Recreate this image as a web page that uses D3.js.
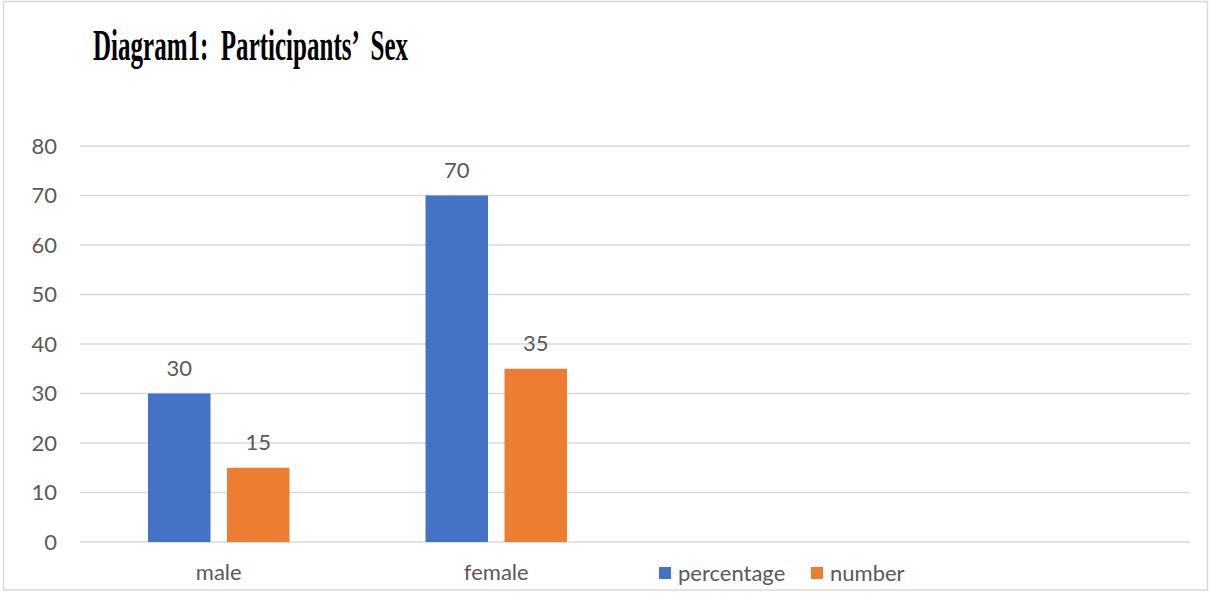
<!DOCTYPE html>
<html>
<head>
<meta charset="utf-8">
<script src="https://cdn.jsdelivr.net/npm/d3@7"></script>
<style>
  body { margin: 0; background: #fff; }
  svg text { font-family: Lato, "Open Sans", sans-serif; fill: #595959; }
</style>
</head>
<body>
<svg id="chart" width="1210" height="593"></svg>
<script>
(function() {
  // chart data
  const categories = ["male", "female", "", ""];
  const seriesNames = ["percentage", "number"];
  const percentage = [30, 70, null, null];
  const number = [15, 35, null, null];
  const yTicks = [0, 10, 20, 30, 40, 50, 60, 70, 80];
  const colors = ["#4472C4", "#ED7D31"];

  const svg = d3.select("#chart");
  const left = 80, right = 1190, top = 146, bottom = 542;

  // outer frame
  svg.append("rect")
    .attr("x", 3.5).attr("y", 1.5)
    .attr("width", 1204).attr("height", 588.5)
    .attr("fill", "none")
    .attr("stroke", "#d9d9d9")
    .attr("stroke-width", 1.5);

  // title (condensed bold serif)
  svg.append("text")
    .attr("x", 93).attr("y", 60)
    .attr("textLength", 315)
    .attr("lengthAdjust", "spacingAndGlyphs")
    .style("font-family", "'Liberation Serif', 'DejaVu Serif', serif")
    .style("font-weight", "bold")
    .style("font-size", "45px")
    .style("fill", "#000")
    .style("white-space", "pre")
    .text("Diagram1:  Participants’  Sex");

  const x0 = d3.scaleBand()
    .domain(d3.range(categories.length))
    .range([left, right])
    .padding(0);

  const x1 = d3.scaleBand()
    .domain(seriesNames)
    .range([0, x0.bandwidth()])
    .paddingInner(0.209)
    .paddingOuter(0.861);

  const y = d3.scaleLinear().domain([0, 80]).range([bottom, top]);

  // gridlines
  svg.append("g")
    .selectAll("line")
    .data(yTicks)
    .enter()
    .append("line")
    .attr("x1", left).attr("x2", right)
    .attr("y1", d => y(d)).attr("y2", d => y(d))
    .attr("stroke", "#d9d9d9")
    .attr("stroke-width", 1.5);

  // y tick labels
  svg.append("g")
    .selectAll("text")
    .data(yTicks)
    .enter()
    .append("text")
    .attr("x", 57)
    .attr("y", d => y(d))
    .attr("dy", "0.35em")
    .attr("text-anchor", "end")
    .style("font-size", "22px")
    .text(d => d);

  // bars
  const table = categories.map((c, i) => ({
    i: i,
    values: [
      { key: "percentage", value: percentage[i] },
      { key: "number", value: number[i] }
    ]
  }));

  const groups = svg.append("g")
    .selectAll("g")
    .data(table)
    .enter()
    .append("g")
    .attr("transform", d => `translate(${x0(d.i)},0)`);

  groups.selectAll("rect")
    .data(d => d.values.filter(v => v.value != null))
    .enter()
    .append("rect")
    .attr("x", d => x1(d.key))
    .attr("width", x1.bandwidth())
    .attr("y", d => y(d.value))
    .attr("height", d => y(0) - y(d.value))
    .attr("fill", d => colors[seriesNames.indexOf(d.key)]);

  // data labels
  groups.selectAll("text")
    .data(d => d.values.filter(v => v.value != null))
    .enter()
    .append("text")
    .attr("x", d => x1(d.key) + x1.bandwidth() / 2)
    .attr("y", d => y(d.value) - 18)
    .attr("text-anchor", "middle")
    .style("font-size", "22px")
    .text(d => d.value);

  // category labels
  svg.append("g")
    .selectAll("text")
    .data(categories)
    .enter()
    .append("text")
    .attr("x", (d, i) => x0(i) + x0.bandwidth() / 2)
    .attr("y", 580)
    .attr("text-anchor", "middle")
    .style("font-size", "22px")
    .text(d => d);

  // legend
  const legendX = [659, 811];
  const legend = svg.append("g")
    .selectAll("g")
    .data(seriesNames)
    .enter()
    .append("g")
    .attr("transform", (d, i) => `translate(${legendX[i]},0)`);

  legend.append("rect")
    .attr("x", 0).attr("y", 567)
    .attr("width", 12).attr("height", 12)
    .attr("fill", (d, i) => colors[i]);

  legend.append("text")
    .attr("x", 19).attr("y", 581)
    .style("font-size", "22px")
    .text(d => d);
})();
</script>
</body>
</html>
